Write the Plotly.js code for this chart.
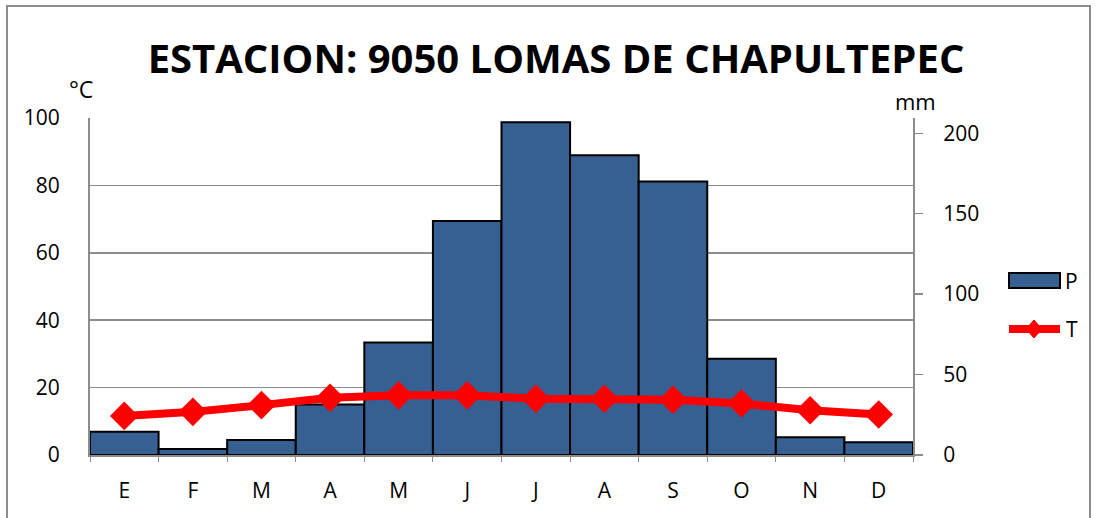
<!DOCTYPE html>
<html>
<head>
<meta charset="utf-8">
<script src="https://cdn.plot.ly/plotly-3.0.1.min.js"></script>
<style>
  html, body { margin: 0; padding: 0; background: #fff; }
  #wrap { position: relative; width: 1097px; height: 518px; overflow: hidden; }
  #chart { position: absolute; left: 0; top: 0; width: 1097px; height: 518px; }
  #frame { position: absolute; left: 6px; top: 5px; width: 1081px; height: 600px;
           border: 2px solid #8c8c8c; pointer-events: none; }
</style>
</head>
<body>
<div id="wrap">
  <div id="chart"></div>
  <div id="frame"></div>
</div>
<script>
// ---- data ----
const months = ['E','F','M','A','M','J','J','A','S','O','N','D'];
const precip = [14.4, 3.7, 9.3, 31.4, 70, 145.5, 206.8, 186.4, 170, 59.9, 11.1, 8.0]; // mm
const temp = [11.6, 12.8, 14.8, 17.0, 17.7, 17.7, 16.7, 16.7, 16.4, 15.3, 13.3, 12.0]; // °C
const leftTicks = [0, 20, 40, 60, 80, 100];
const rightTicks = [0, 50, 100, 150, 200];
const titleText = 'ESTACION: 9050 LOMAS DE CHAPULTEPEC';

const xIdx = months.map((m, i) => i);
const FONT = 'Open Sans, sans-serif';
const GRID = '#8c8c8c';

const traces = [
  {
    type: 'bar', name: 'P', x: xIdx, y: precip, yaxis: 'y',
    marker: { color: '#376092', line: { color: '#000000', width: 2 } },
    showlegend: false, hoverinfo: 'skip'
  },
  {
    type: 'scatter', mode: 'lines+markers', name: 'T', x: xIdx, y: temp, yaxis: 'y2',
    line: { color: '#ff0000', width: 8 },
    marker: { symbol: 'diamond', size: 22, color: '#ff0000' },
    showlegend: false, hoverinfo: 'skip'
  }
];

// custom legend (paper coords relative to plot area 90..913 x, 118..455 y)
const px = v => (v - 90) / 823;
const py = v => (455 - v) / 337;

const layout = {
  width: 1097, height: 518,
  margin: { l: 90, r: 184, t: 118, b: 63 },
  paper_bgcolor: '#ffffff', plot_bgcolor: '#ffffff',
  showlegend: false,
  bargap: 0,
  font: { family: FONT, size: 21, color: '#000' },
  title: {
    text: '<b>' + titleText + '</b>',
    font: { family: FONT, size: 40, color: '#000' },
    x: 556 / 1097, xanchor: 'center', xref: 'container',
    y: 1 - 59 / 518, yanchor: 'middle', yref: 'container'
  },
  xaxis: {
    range: [-0.5, 11.5],
    tickmode: 'array', tickvals: xIdx, ticktext: months,
    showgrid: false, zeroline: false,
    showline: true, linecolor: GRID, linewidth: 2,
    ticks: '', ticklabelstandoff: 16,
    minor: { ticks: 'outside', tick0: -0.5, dtick: 1, ticklen: 5, tickcolor: GRID, tickwidth: 1, showgrid: false },
    tickfont: { family: FONT, size: 21 }
  },
  yaxis: {
    side: 'right', range: [0, 209.5],
    tickmode: 'array', tickvals: rightTicks,
    showgrid: false, zeroline: false,
    showline: true, linecolor: GRID, linewidth: 2,
    ticks: 'outside', ticklen: 8, tickcolor: GRID, tickwidth: 1.5,
    ticklabelstandoff: 16,
    tickfont: { family: FONT, size: 21 }
  },
  yaxis2: {
    overlaying: 'y', side: 'left', range: [0, 100],
    tickmode: 'array', tickvals: leftTicks,
    showgrid: true, gridcolor: GRID, gridwidth: 1.5,
    zeroline: false,
    showline: true, linecolor: GRID, linewidth: 2,
    ticks: '', ticklabelstandoff: 24,
    tickfont: { family: FONT, size: 21 }
  },
  annotations: [
    { text: '°C', xref: 'paper', yref: 'paper', x: px(81), y: py(89), xanchor: 'center', yanchor: 'middle',
      showarrow: false, font: { family: FONT, size: 23 } },
    { text: 'mm', xref: 'paper', yref: 'paper', x: px(915), y: py(101), xanchor: 'center', yanchor: 'middle',
      showarrow: false, font: { family: FONT, size: 22 } },
    { text: 'P', xref: 'paper', yref: 'paper', x: px(1063), y: py(281), xanchor: 'left', yanchor: 'middle',
      showarrow: false, font: { family: FONT, size: 21 } },
    { text: 'T', xref: 'paper', yref: 'paper', x: px(1064), y: py(329), xanchor: 'left', yanchor: 'middle',
      showarrow: false, font: { family: FONT, size: 21 } }
  ],
  shapes: [
    { type: 'rect', xref: 'paper', yref: 'paper', x0: px(1009), x1: px(1060), y0: py(288), y1: py(273),
      fillcolor: '#376092', line: { color: '#000', width: 2 } },
    { type: 'line', xref: 'paper', yref: 'paper', x0: px(1009), x1: px(1060), y0: py(329), y1: py(329),
      line: { color: '#ff0000', width: 8 } },
    { type: 'path', xref: 'paper', yref: 'paper',
      path: 'M ' + px(1034) + ' ' + py(320) + ' L ' + px(1042) + ' ' + py(329) + ' L ' + px(1034) + ' ' + py(338) + ' L ' + px(1026) + ' ' + py(329) + ' Z',
      fillcolor: '#ff0000', line: { color: '#ff0000', width: 1 } }
  ]
};

Plotly.newPlot('chart', traces, layout, { displayModeBar: false, staticPlot: true });
</script>
</body>
</html>
